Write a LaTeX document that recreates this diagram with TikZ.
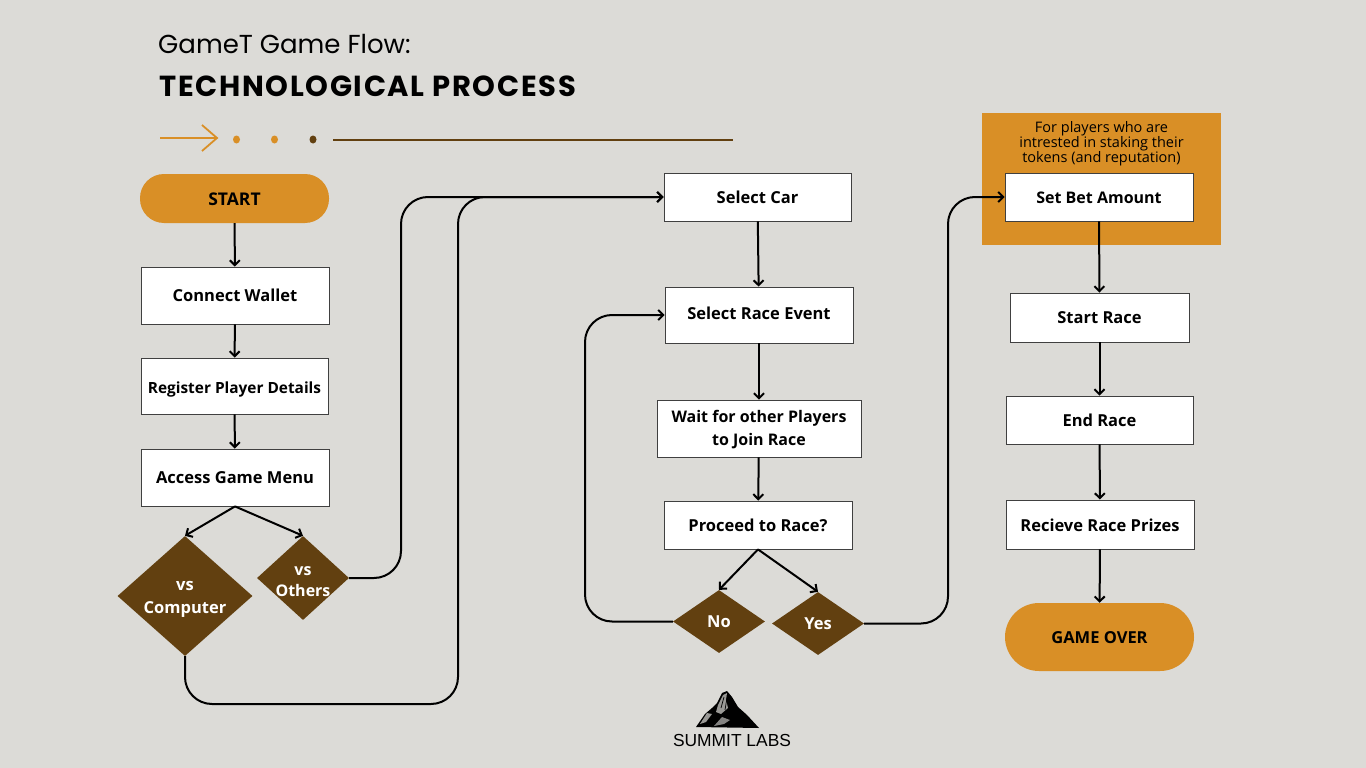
\documentclass[tikz,border=0pt]{standalone}
\usepackage{fontspec}
\setmainfont{Open Sans}
\newfontfamily\headfont{Poppins}
\newfontfamily\spacedfont[LetterSpace=5.8]{Poppins}
\newfontfamily\logofont{Liberation Sans}
\usepackage{tikz}
\usetikzlibrary{positioning,arrows.meta,calc,shapes.geometric}
\usepackage{xcolor}
\definecolor{paper}{HTML}{DCDBD7}
\definecolor{ochre}{HTML}{D98F26}
\definecolor{umber}{HTML}{624010}
\newcommand{\boxfont}{\fontsize{16.5}{23}\selectfont\bfseries}
\newcommand{\tightfont}{\fontsize{16}{23}\selectfont\bfseries}
\newcommand{\nudge}[2]{\raisebox{#1}[12pt][0pt]{#2}}
\tikzset{
  stepbox/.style={draw=black!75, line width=0.8pt, fill=white, align=center,
              inner sep=0pt, font=\boxfont},
  pillbox/.style={rounded corners=24pt, fill=ochre, align=center,
              inner sep=0pt, font=\boxfont},
  choicebox/.style={diamond, aspect=1.13, fill=umber, text=white, align=center,
              inner sep=0pt, font=\boxfont},
  dotmark/.style={ellipse, inner sep=0pt, minimum width=7pt, minimum height=8pt},
  flow/.style={draw=black, line width=2pt, -{Straight Barb[length=5pt,width=10pt]}},
  routed/.style={flow, rounded corners=27pt},
}

\begin{document}
\begin{tikzpicture}[x=1pt,y=-1pt]
\useasboundingbox[fill=paper] (0,0) rectangle (1366,768);
% heading
\node[anchor=base west, inner sep=0pt, font=\headfont\fontsize{26}{30}\selectfont] (heading) at (158,53.5) {GameT Game Flow:};
\node[anchor=base west, inner sep=0pt, font=\spacedfont\fontsize{29}{32}\selectfont\bfseries] (subheading) at (159,96) {TECHNOLOGICAL PROCESS};
% rule under the heading
\coordinate (a1) at (160,138);
\coordinate (a2) at (217,138);
\draw[ochre, line width=1.8pt] (a1) -- (a2) (202,125) -- (a2) -- (202,151);
\node[dotmark, fill=ochre] (dot1) at (236.5,139.5) {};
\node[dotmark, fill=ochre] (dot2) at (274.5,139.5) {};
\node[dotmark, fill=umber] (dot3) at (313,139.5) {};
\coordinate (r1) at (333,140);
\coordinate (r2) at (733,140);
\draw[umber, line width=2.2pt] (r1) -- (r2);

% panel behind the bet step
\node[fill=ochre, minimum width=239pt, minimum height=132pt, inner sep=0pt] (panel) at (1101.5,179) {};
\node[align=center, inner sep=0pt, font=\fontsize{14.5}{15}\selectfont] (panelnote) at (1101.5,144) {For players who are\\intrested in staking their\\tokens (and reputation)};

% left column
\node[pillbox, minimum width=189pt, minimum height=49pt, font=\fontsize{17.5}{23}\selectfont\bfseries] (start) at (234.5,198.5) {\nudge{-1pt}{START}};
\node[stepbox, minimum width=188pt, minimum height=57pt] (wallet) at (235,295.5) {\nudge{0pt}{Connect Wallet}};
\node[stepbox, minimum width=187pt, minimum height=56pt, font=\fontsize{15.4}{23}\selectfont\bfseries] (register) at (234.5,386) {\nudge{-1pt}{Register Player Details}};
\node[stepbox, minimum width=188pt, minimum height=57pt] (menu) at (235,477.5) {\nudge{0pt}{Access Game Menu}};
\node[choicebox, minimum width=135pt, minimum height=120pt] (computer) at (185,596) {\nudge{0pt}{vs}\\\nudge{0pt}{Computer}};
\node[choicebox, minimum width=92pt, minimum height=84pt, font=\tightfont] (others) at (303,578) {\nudge{-3pt}{vs}\\\nudge{-1pt}{\makebox[30pt]{Others}}};

% middle column
\node[stepbox, minimum width=187pt, minimum height=48pt] (car) at (757.5,197) {\nudge{0pt}{Select Car}};
\node[stepbox, minimum width=188pt, minimum height=56pt] (event) at (759,315) {\nudge{2pt}{Select Race Event}};
\node[stepbox, minimum width=204pt, minimum height=57pt, font=\tightfont] (wait) at (759,428.5) {\nudge{1pt}{Wait for other Players}\\\nudge{1pt}{to Join Race}};
\node[stepbox, minimum width=188pt, minimum height=48pt] (proceed) at (758,525) {\nudge{0pt}{Proceed to Race?}};
\node[choicebox, minimum width=92pt, minimum height=63pt] (no) at (719,621.5) {\nudge{0pt}{No}};
\node[choicebox, minimum width=92pt, minimum height=63pt] (yes) at (818,623.5) {\nudge{0pt}{Yes}};

% right column
\node[stepbox, minimum width=188pt, minimum height=48pt, font=\tightfont] (bet) at (1099,197) {\nudge{0pt}{Set Bet Amount}};
\node[stepbox, minimum width=179pt, minimum height=49pt] (race) at (1099.5,317.5) {\nudge{0pt}{Start Race}};
\node[stepbox, minimum width=187pt, minimum height=48pt] (end) at (1099.5,420) {\nudge{0pt}{End Race}};
\node[stepbox, minimum width=188pt, minimum height=49pt] (prizes) at (1100,524.5) {\nudge{-1pt}{Recieve Race Prizes}};
\node[pillbox, rounded corners=34pt, minimum width=189pt, minimum height=68pt] (over) at (1099.5,637) {\nudge{0pt}{GAME OVER}};

% straight connectors
\draw[flow] (start) -- (wallet);
\draw[flow] (wallet) -- (register);
\draw[flow] (register) -- (menu);
\draw[flow] (menu.south) -- (computer.north);
\draw[flow] (menu.south) -- (others.north);
\draw[flow] (car) -- (event);
\draw[flow] (event) -- (wait);
\draw[flow] (wait) -- (proceed);
\draw[flow] (proceed.south) -- (no.north);
\draw[flow] (proceed.south) -- (yes.north);
\draw[flow] (bet) -- (race);
\draw[flow] (race) -- (end);
\draw[flow] (end) -- (prizes);
\draw[flow] (prizes) -- (over);

% routed connectors
\draw[routed] (others.east) -| (401,197) -- (car.west);
\draw[routed] (computer.south) |- (458,704) |- (car.west);
\draw[routed] (no.west) -| (585,315) -- (event.west);
\draw[routed] (yes.east) -| (948,197) -- (bet.west);

% logo
\fill[black] (696,727) -- (705,714) -- (712,708) -- (717,703) -- (722,693) -- (727,691) -- (732,697) -- (738,707) -- (747,715) -- (759,728) -- cycle;
\fill[paper!70!black] (727,693) -- (723,695) -- (718,705) -- (716,712) -- (721,714) -- (728,708) -- (726,700) -- cycle;
\fill[paper!70!black] (707,713) -- (700,724) -- (706,722) -- (712,714) -- cycle;
\fill[paper!60!black] (722,717) -- (714,726) -- (724,724) -- (730,720) -- cycle;
\draw[black, line width=0.7pt] (724,697) -- (721,708) (727,698) -- (725,710);
\node[inner sep=0pt, font=\logofont\fontsize{17.4}{20}\selectfont] (logo) at (732,740.5) {SUMMIT LABS};
\end{tikzpicture}
\end{document}
